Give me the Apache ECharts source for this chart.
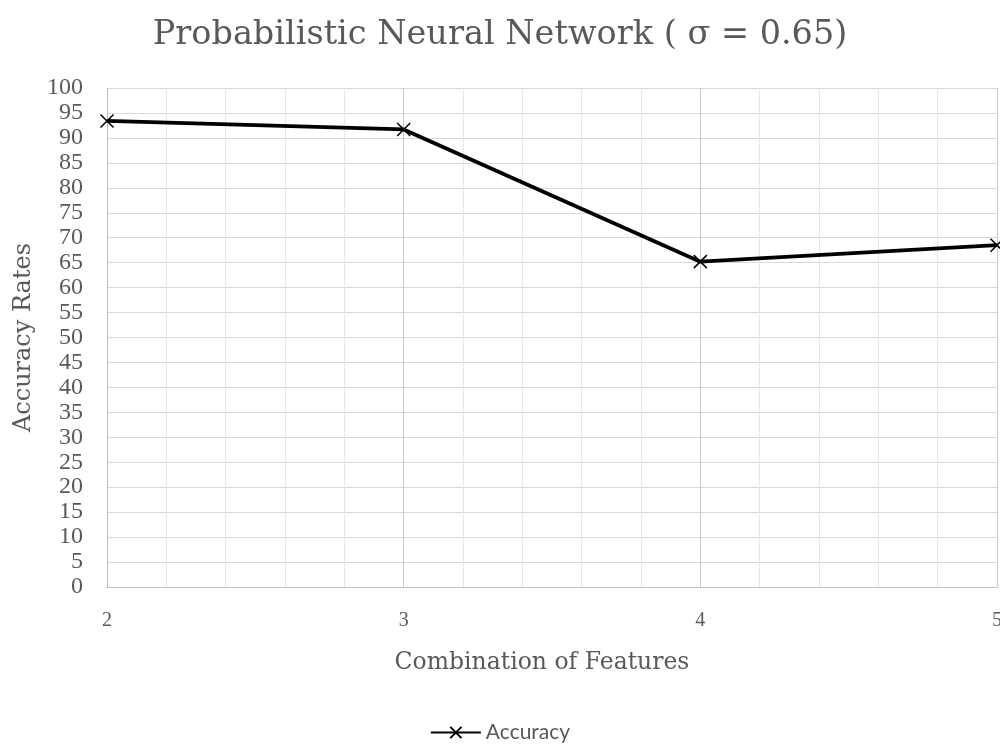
<!DOCTYPE html>
<html>
<head>
<meta charset="utf-8">
<script src="https://cdn.jsdelivr.net/npm/echarts@6/dist/echarts.min.js"></script>
<style>
  html, body { margin: 0; padding: 0; background: #fff; }
  #chart { width: 1000px; height: 744px; }
</style>
</head>
<body>
<div id="chart"></div>
<script>
// feature counts on the x axis
const featureCounts = [2, 3, 4, 5];
// accuracy (%)
const accuracy = [93.4, 91.7, 65.2, 68.5];

const seriesData = featureCounts.map((f, i) => [f, accuracy[i]]);

const serif = '"Liberation Serif", serif';
const wideSerif = '"DejaVu Serif", serif';
const grey = '#595959';

const chart = echarts.init(document.getElementById('chart'));

chart.setOption({
  animation: false,
  backgroundColor: '#fff',
  title: {
    text: 'Probabilistic Neural Network ( σ = 0.65)',
    left: 'center',
    top: 13,
    textStyle: { fontFamily: wideSerif, fontSize: 33.5, fontWeight: 'normal', color: grey }
  },
  grid: { left: 107, right: 3, top: 88, bottom: 157, outerBoundsMode: 'none' },
  xAxis: {
    type: 'value',
    min: 2,
    max: 5,
    interval: 1,
    name: 'Combination of Features',
    nameLocation: 'middle',
    nameGap: 64,
    nameTextStyle: { fontFamily: wideSerif, fontSize: 23.5, color: grey, padding: [0, 20, 0, 0] },
    axisLine: { show: true, lineStyle: { color: '#bfbfbf', width: 1 } },
    axisTick: { show: false },
    axisLabel: { fontFamily: serif, fontSize: 20, color: grey, margin: 24 },
    splitLine: { show: true, lineStyle: { color: '#c8c8c8', width: 1 } },
    minorTick: { show: false, splitNumber: 5 },
    minorSplitLine: { show: true, lineStyle: { color: '#e6e6e6', width: 1 } }
  },
  yAxis: {
    type: 'value',
    min: 0,
    max: 100,
    interval: 5,
    name: 'Accuracy Rates',
    nameLocation: 'middle',
    nameGap: 70,
    nameTextStyle: { fontFamily: wideSerif, fontSize: 24, color: grey },
    axisLine: { show: true, lineStyle: { color: '#bfbfbf', width: 1 } },
    axisTick: { show: false },
    axisLabel: { fontFamily: serif, fontSize: 24, color: grey, margin: 24 },
    splitLine: { show: true, lineStyle: { color: '#d9d9d9', width: 1 } }
  },
  legend: {
    bottom: -4,
    left: 'center',
    itemWidth: 50,
    itemHeight: 14,
    textStyle: { fontFamily: 'Lato, "Open Sans", sans-serif', fontSize: 21, color: grey },
    data: ['Accuracy']
  },
  series: [{
    name: 'Accuracy',
    type: 'line',
    data: seriesData,
    symbol: 'path://M0,0L10,10M10,0L0,10',
    symbolSize: 13,
    showAllSymbol: true,
    lineStyle: { color: '#000', width: 3.8 },
    itemStyle: { color: 'none', borderColor: '#000', borderWidth: 1.5 }
  }]
});
</script>
</body>
</html>
